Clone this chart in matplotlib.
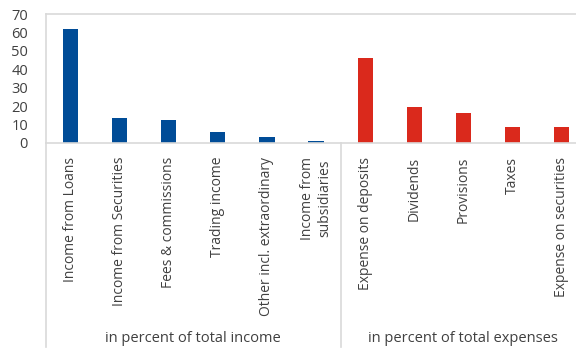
import matplotlib
matplotlib.use("Agg")
import matplotlib.pyplot as plt

plt.rcParams['font.family'] = ['Open Sans', 'DejaVu Sans']

income_labels = ['Income from Loans', 'Income from Securities', 'Fees & commissions',
                 'Trading income', 'Other incl. extraordinary', 'Income from\nsubsidiaries']
income_values = [62, 13.4, 12.5, 6.1, 3.1, 0.9]
expense_labels = ['Expense on deposits', 'Dividends', 'Provisions', 'Taxes',
                  'Expense on securities']
expense_values = [46, 19.7, 16.1, 8.9, 8.5]
group_labels = ['in percent of total income', 'in percent of total expenses']

blue = '#004C97'
red = '#DA291C'
txt = '#404040'
line = '#D9D9D9'

W, H = 576, 349
fig = plt.figure(figsize=(W / 100, H / 100), dpi=100)
cat_w = 49.1
n_inc = len(income_values)
n = n_inc + len(expense_values)
ax = fig.add_axes([46 / W, (H - 143) / H, n * cat_w / W, 129 / H])

xi = list(range(n_inc))
xe = list(range(n_inc, n))
ax.bar(xi, income_values, width=0.31, color=blue)
ax.bar(xe, expense_values, width=0.31, color=red)

ax.set_xlim(-0.5, n - 0.5)
ax.set_ylim(0, 70)
ax.set_yticks(range(0, 71, 10))
ax.tick_params(axis='y', length=0, pad=13, labelsize=10.5, labelcolor=txt)
ax.set_xticks(xi + xe)
ax.set_xticklabels(income_labels + expense_labels, rotation=90, va='top', ha='center',
                   multialignment='center', fontsize=10, color=txt)
ax.tick_params(axis='x', length=0, pad=10)

ax.spines['right'].set_visible(False)
for s in ['left', 'top', 'bottom']:
    ax.spines[s].set_color(line)
    ax.spines[s].set_linewidth(1.2)

# group separators below the category axis
tr = ax.get_xaxis_transform()
y_low = -(347 - 143) / 129
for xpos in [-0.5, n_inc - 0.5]:
    ax.plot([xpos, xpos], [0, y_low], transform=tr, color=line, lw=1.2, clip_on=False)

ygrp = -(339 - 143) / 129
ax.text((n_inc - 1) / 2, ygrp, group_labels[0], transform=tr,
        ha='center', va='center', fontsize=10.5, color=txt)
ax.text((n_inc + n - 1) / 2, ygrp, group_labels[1], transform=tr,
        ha='center', va='center', fontsize=10.5, color=txt)

fig.savefig('out.png', dpi=100)
